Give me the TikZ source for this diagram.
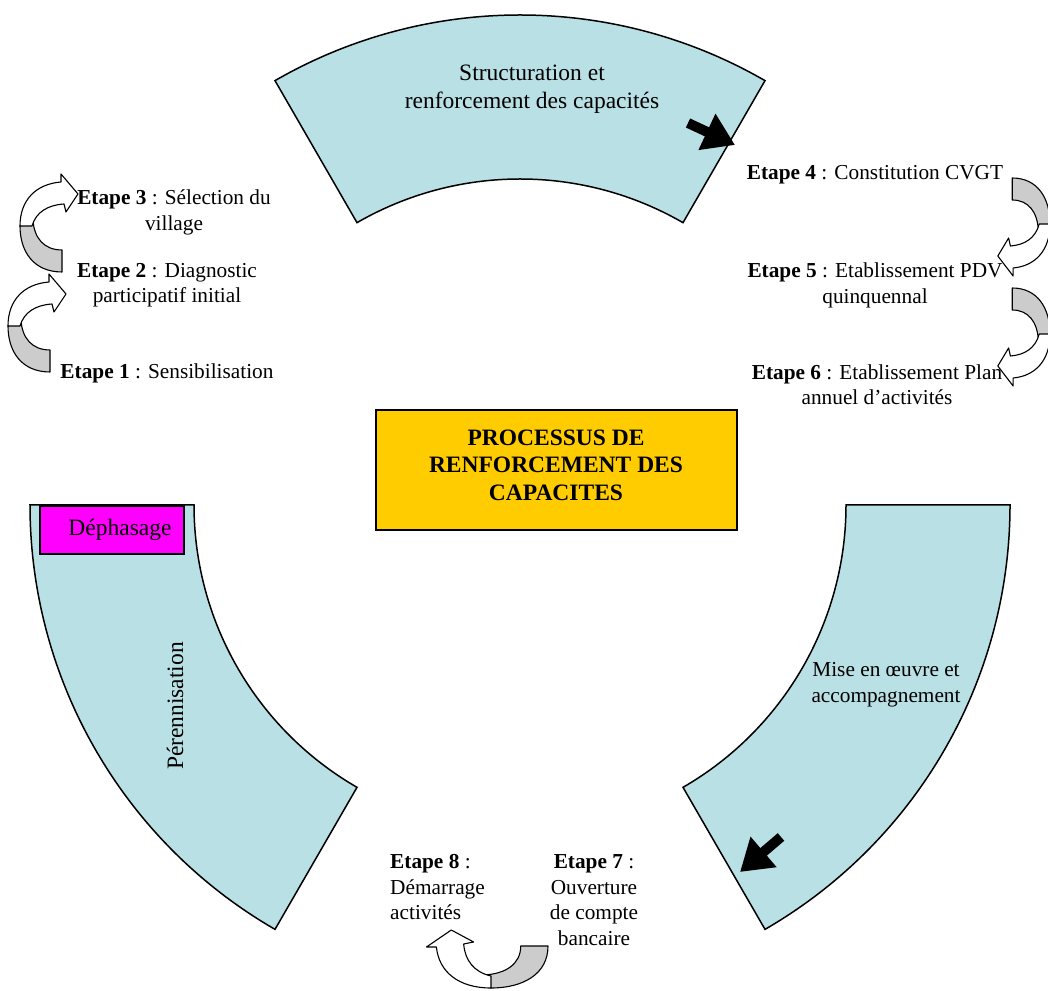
\documentclass[tikz,border=0pt]{standalone}
\usepackage{fontspec}
\setmainfont{Liberation Serif}
\usetikzlibrary{arrows.meta,calc}
\definecolor{segblue}{RGB}{185,224,228}
\definecolor{boxgold}{RGB}{255,204,0}
\definecolor{arrowgrey}{RGB}{204,204,204}
\definecolor{dephmag}{RGB}{255,0,255}
\tikzset{
  seg/.style={draw=black, line width=1.5pt, fill=segblue},
  crvgrey/.style={draw=black, line width=1.1pt, fill=arrowgrey, line join=round},
  crvwhite/.style={draw=black, line width=1.1pt, fill=white, line join=round},
  lbl/.style={font=\fontsize{21.3}{25.5}\selectfont, align=center, inner sep=0pt},
  bigl/.style={font=\fontsize{23.5}{28}\selectfont, align=center, inner sep=0pt},
  blockarrow/.style={line width=10pt, -{Triangle[length=31pt,width=38pt]}},
}
\newcommand{\crvarrow}[1]{%
  \begin{scope}[#1]
    \filldraw[crvgrey] (42,0) .. controls (14,0) and (0,20) .. (0,46) -- (13,52)
      .. controls (14,34) and (24,22) .. (42,22) -- cycle;
    \filldraw[crvwhite] (0,46) .. controls (0,72) and (16,88) .. (41,90) -- (41,98)
      -- (58,78) -- (46,60) -- (44,68) .. controls (28,67) and (16,60) .. (12,46) -- cycle;
  \end{scope}}
\begin{document}
\begin{tikzpicture}[x=1pt, y=1pt]
  \useasboundingbox (0,0) rectangle (1048,990);
  \fill[white] (0,0) rectangle (1048,990);
  \coordinate (C) at (520,485);
  % ring segments
  \draw[seg] ($(C)+(60:490pt)$) arc[start angle=60, end angle=120, radius=490pt]
     -- ($(C)+(120:326pt)$) arc[start angle=120, end angle=60, radius=326pt] -- cycle;
  \draw[seg] ($(C)+(180:490pt)$) arc[start angle=180, end angle=240, radius=490pt]
     -- ($(C)+(240:326pt)$) arc[start angle=240, end angle=180, radius=326pt] -- cycle;
  \draw[seg] ($(C)+(0:490pt)$) arc[start angle=0, end angle=-60, radius=490pt]
     -- ($(C)+(-60:326pt)$) arc[start angle=-60, end angle=0, radius=326pt] -- cycle;
  % black block arrows
  \coordinate (ba1t) at (688,867);
  \coordinate (ba1h) at (735,845);
  \coordinate (ba2t) at (781,153);
  \coordinate (ba2h) at (740,118);
  \draw[blockarrow] (ba1t) -- (ba1h);
  \draw[blockarrow] (ba2t) -- (ba2h);
  % boxes
  \node[draw=black, line width=1.2pt, fill=dephmag, minimum width=144pt, minimum height=48pt,
        inner sep=0pt] (deph) at (112,460) {};
  \node[bigl] (dephtxt) at (120,460) {Déphasage};
  \node[draw=black, line width=1.2pt, fill=boxgold, minimum width=361pt, minimum height=120pt,
        inner sep=0pt] (proc) at (556.5,520) {};
  \node[bigl, font=\fontsize{23.5}{27.5}\selectfont\bfseries] (proctxt) at (556,525)
        {PROCESSUS DE\\RENFORCEMENT DES\\CAPACITES};
  % segment texts
  \node[bigl] (struct) at (532,901) {Structuration et\\renforcement des capacités};
  \node[bigl, rotate=90] (peren) at (175,284) {Pérennisation};
  \node[lbl] (mise) at (886,305.5) {Mise en œuvre et\\accompagnement};
  % step labels
  \node[lbl] (e3) at (174,777.5) {\textbf{Etape 3} : Sélection du\\village};
  \node[lbl] (e2) at (167,705) {\textbf{Etape 2} : Diagnostic\\participatif initial};
  \node[lbl] (e1) at (167,617) {\textbf{Etape 1} : Sensibilisation};
  \node[lbl] (e4) at (875,815) {\textbf{Etape 4} : Constitution CVGT};
  \node[lbl] (e5) at (875,704.5) {\textbf{Etape 5} : Etablissement PDV\\quinquennal};
  \node[lbl] (e6) at (877,605.5) {\textbf{Etape 6} : Etablissement Plan\\annuel d’activités};
  \node[lbl, align=left, anchor=west] (e8) at (390,102.5) {\textbf{Etape 8} :\\Démarrage\\activités};
  \node[lbl] (e7) at (594,90) {\textbf{Etape 7} :\\Ouverture\\de compte\\bancaire};
  % curved arrows
  \crvarrow{shift={(8,618)}}
  \crvarrow{shift={(20,718)}}
  \crvarrow{shift={(1050,812)}, rotate=180, xscale=0.9}
  \crvarrow{shift={(1050,702)}, rotate=180, xscale=0.9}
  \crvarrow{shift={(548,2)}, rotate=90, yscale=1.24}
\end{tikzpicture}
\end{document}
